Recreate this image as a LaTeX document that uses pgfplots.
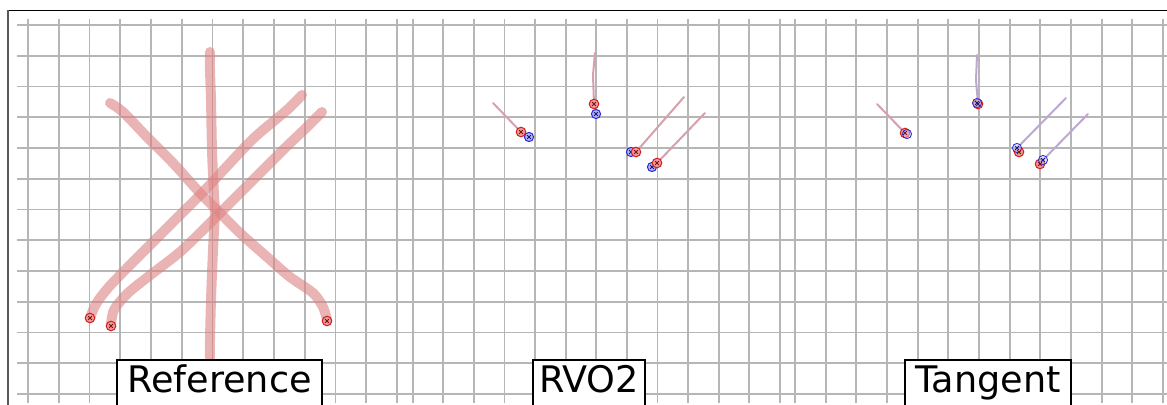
\documentclass[border=0pt]{standalone}
\usepackage{fontspec}
\setmainfont{DejaVu Sans}
\usepackage{pgfplots}
\pgfplotsset{compat=1.18}

\definecolor{gridgray}{RGB}{182,182,182}
\definecolor{trail}{RGB}{220,130,130}
\definecolor{rvotrail}{RGB}{214,160,172}
\definecolor{tantrail}{RGB}{190,168,210}
\definecolor{agentred}{RGB}{210,30,30}
\definecolor{agentblue}{RGB}{40,40,215}

% agent markers
\pgfplotsset{
  redagent/.style={only marks, mark=*, mark size=2.4pt,
    mark options={draw=agentred, fill=agentred!45, line width=0.5pt}},
  blueagent/.style={only marks, mark=*, mark size=2.3pt,
    mark options={draw=agentblue, fill=agentblue!35, line width=0.5pt}},
  redcore/.style={only marks, mark=x, mark size=1.2pt,
    mark options={draw=agentred!60!black, line width=0.5pt}},
  bluecore/.style={only marks, mark=x, mark size=1.2pt,
    mark options={draw=agentblue!60!black, line width=0.5pt}},
}

\begin{document}
\begin{tikzpicture}
\begin{axis}[
  x=0.5pt, y=0.5pt, y dir=reverse,
  xmin=17, xmax=1167, ymin=19, ymax=403,
  axis line style={draw=none},
  major tick length=0pt,
  xticklabels={}, yticklabels={},
  xtick={28,58.75,89.5,120.25,151,181.75,212.5,243.25,274,304.75,335.5,366.25,397,
         412.7,443.3,473.9,504.5,535.1,565.7,596.3,626.9,657.5,688.1,718.7,749.3,779.9,
         795,825.7,856.3,887,917.7,948.3,979,1009.7,1040.3,1071,1101.7,1132.3,1163},
  ytick={25,55.75,86.5,117.25,148,178.75,209.5,240.25,271,301.75,332.5,363.25,394},
  grid=major,
  major grid style={line width=0.9pt, color=gridgray},
  clip=false,
]

% --- Reference panel: planned paths
\pgfplotsset{every axis plot/.append style={line cap=round, line join=round}}
\addplot[trail, opacity=0.6, line width=5pt, smooth] coordinates {
  (210,52) (210,70) (211,100) (212,150) (214,195) (215,210) (213,250) (211,300) (210,340) (210,358)};
\addplot[trail, opacity=0.6, line width=5pt, smooth] coordinates {
  (110,103) (123,112) (147,137) (173,163) (200,193) (217,210) (240,233) (267,257) (290,277) (313,293) (323,307) (327,320)};
\addplot[trail, opacity=0.6, line width=5pt, smooth] coordinates {
  (302,95) (287,110) (255,137) (230,163) (205,190) (180,215) (155,240) (130,265) (108,288) (96,304) (90,318)};
\addplot[trail, opacity=0.6, line width=5pt, smooth] coordinates {
  (322,112) (307,127) (283,150) (255,178) (230,203) (205,228) (180,252) (153,273) (128,293) (114,310) (111,325)};
\addplot[redagent] coordinates {(90,318) (111,326) (327,321)};
\addplot[redcore] coordinates {(90,318) (111,326) (327,321)};

% --- RVO2 panel
\addplot[rvotrail, line width=1pt] coordinates {(595,53) (593,75) (594,104)};
\addplot[rvotrail, line width=1pt] coordinates {(493,103) (521,132)};
\addplot[rvotrail, line width=1pt] coordinates {(684,97) (636,152)};
\addplot[rvotrail, line width=1pt] coordinates {(705,113) (657,163)};
\addplot[blueagent] coordinates {(596,114) (529,137) (631,152) (652,167)};
\addplot[bluecore] coordinates {(596,114) (529,137) (631,152) (652,167)};
\addplot[redagent] coordinates {(594,104) (521,132) (636,152) (657,163)};
\addplot[redcore] coordinates {(594,104) (521,132) (636,152) (657,163)};

% --- Tangent panel
\addplot[tantrail, line width=1pt] coordinates {(977,55) (976,80) (978,104)};
\addplot[rvotrail, line width=1pt] coordinates {(877,104) (905,133)};
\addplot[tantrail, line width=1pt] coordinates {(1066,98) (1017,148)};
\addplot[tantrail, line width=1pt] coordinates {(1088,114) (1043,160)};
\addplot[redagent] coordinates {(978,104) (905,133) (1019,152) (1040,164)};
\addplot[blueagent, mark options={fill=agentblue!25, draw=agentblue, fill opacity=0.5}] coordinates {(977,103) (907,134) (1017,148) (1043,160)};
\addplot[redcore] coordinates {(978,104) (905,133) (1019,152) (1040,164)};
\addplot[bluecore] coordinates {(977,103) (1017,148) (1043,160)};

% frame
\draw[black, line width=0.8pt] (axis cs:8,10.7) -- (axis cs:1167,10.7);
\draw[black!65, line width=1pt] (axis cs:8,10.2) -- (axis cs:8,405);

% panel labels
\draw[line width=1.1pt, fill=white] (axis cs:117,360) rectangle (axis cs:322,415);
\node[anchor=base, inner sep=0pt, font=\fontsize{18.3}{20}\selectfont] at (axis cs:219.5,393) {Reference};
\draw[line width=1.1pt, fill=white] (axis cs:533,360) rectangle (axis cs:645,415);
\node[anchor=base, inner sep=0pt, font=\fontsize{18.3}{20}\selectfont] at (axis cs:589,393) {RVO2};
\draw[line width=1.1pt, fill=white] (axis cs:905,360) rectangle (axis cs:1071,415);
\node[anchor=base, inner sep=0pt, font=\fontsize{18.3}{20}\selectfont] at (axis cs:988,393) {Tangent};

\coordinate (bl) at (axis cs:0,405);
\coordinate (tr) at (axis cs:1167,0);
\end{axis}
\pgfresetboundingbox
\path[use as bounding box] (bl) rectangle (tr);
\end{tikzpicture}
\end{document}
